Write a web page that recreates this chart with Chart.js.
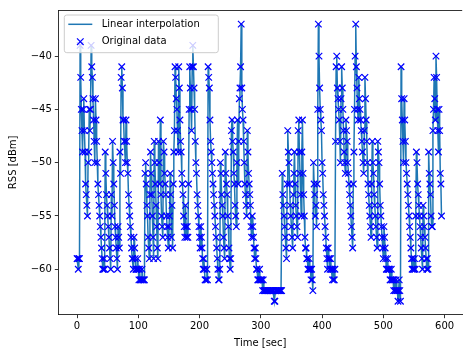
<!DOCTYPE html>
<html><head><meta charset="utf-8">
<script src="https://cdn.jsdelivr.net/npm/chart.js@4/dist/chart.umd.min.js"></script>
<style>html,body{margin:0;padding:0;background:#fff}#wrap{width:468px;height:352px}</style>
</head><body><div id="wrap"><canvas id="c" width="468" height="352"></canvas></div>
<script>
// Sample times: one RSS reading per second starting at 0 s
const sampleStart = 0;
const samplePeriod = 1;
// RSS readings [dBm]
const rss = [
-59,-59,-60,-59,-59,-39,-42,-45,-47,-49,
-45,-44,-47,-49,-52,-53,-54,-55,-50,-49,
-45,-47,-45,-39,-41,-42,-44,-46,-48,-50,
-44,-46,-48,-50,-52,-53,-54,-55,-56,-57,
-58,-59,-60,-60,-59,-60,-49,-51,-53,-54,
-55,-56,-57,-58,-59,-60,-53,-55,-48,-50,
-52,-54,-56,-57,-58,-59,-60,-56,-57,-58,
-49,-51,-42,-41,-43,-46,-46,-48,-48,-50,
-46,-48,-50,-51,-53,-54,-55,-56,-57,-58,
-59,-59,-60,-57,-58,-59,-60,-60,-60,-59,
-60,-61,-60,-61,-61,-61,-60,-61,-61,-61,
-61,-51,-50,-52,-54,-55,-57,-58,-59,-53,
-49,-51,-53,-55,-57,-59,-48,-50,-52,-54,
-56,-58,-59,-48,-50,-52,-46,-53,-55,-56,
-57,-48,-49,-51,-52,-53,-55,-56,-57,-58,
-56,-55,-51,-53,-57,-54,-58,-52,-49,-47,
-41,-42,-44,-45,-47,-49,-41,-43,-46,-48,
-49,-51,-52,-53,-55,-56,-57,-54,-56,-57,
-56,-57,-52,-45,-41,-43,-45,-47,-41,-39,
-41,-43,-45,-48,-50,-51,-53,-54,-55,-56,
-57,-58,-56,-57,-58,-59,-60,-59,-60,-61,
-61,-61,-60,-61,-41,-42,-43,-46,-48,-49,
-50,-51,-52,-53,-54,-55,-56,-57,-58,-59,
-60,-61,-61,-60,-50,-51,-53,-54,-55,-57,
-58,-59,-49,-51,-52,-53,-55,-56,-58,-59,
-60,-59,-47,-46,-48,-49,-51,-52,-54,-55,
-56,-50,-46,-52,-48,-44,-43,-41,-37,-43,
-45,-46,-48,-50,-52,-53,-54,-55,-47,-49,
-51,-52,-53,-54,-56,-57,-55,-56,-57,-58,
-59,-58,-59,-60,-60,-61,-61,-61,-60,-61,
-61,-61,-61,-62,-61,-62,-62,-62,-62,-62,
-62,-62,-62,-62,-62,-62,-62,-62,-62,-62,
-62,-62,-63,-63,-62,-62,-62,-62,-62,-62,
-62,-62,-62,-62,-62,-51,-53,-54,-55,-56,
-57,-58,-59,-52,-47,-49,-50,-52,-54,-55,
-56,-57,-58,-53,-51,-49,-52,-54,-55,-56,
-57,-47,-46,-49,-51,-53,-55,-49,-46,-51,
-53,-55,-57,-58,-58,-59,-59,-60,-60,-59,
-60,-60,-61,-60,-61,-62,-50,-52,-53,-55,
-54,-56,-52,-45,-37,-40,-43,-45,-46,-47,
-50,-51,-53,-54,-55,-56,-57,-58,-59,-60,
-58,-59,-59,-60,-59,-60,-60,-61,-60,-61,
-61,-60,-48,-41,-40,-43,-44,-45,-46,-48,
-50,-44,-41,-43,-45,-47,-49,-50,-51,-46,
-47,-48,-50,-51,-52,-53,-54,-55,-56,-57,
-58,-52,-49,-45,-40,-37,-41,-43,-45,-46,
-42,-44,-45,-46,-47,-48,-49,-50,-51,-47,
-42,-44,-46,-48,-50,-52,-53,-54,-55,-56,
-57,-52,-48,-50,-51,-53,-54,-55,-56,-57,
-58,-48,-49,-50,-52,-54,-55,-56,-57,-58,
-59,-56,-57,-58,-59,-60,-60,-59,-60,-60,
-60,-61,-61,-60,-61,-61,-61,-62,-61,-62,
-62,-61,-62,-62,-63,-62,-61,-62,-63,-41,
-44,-46,-48,-50,-44,-46,-48,-50,-51,-52,
-53,-54,-55,-56,-57,-58,-59,-60,-59,-60,
-60,-59,-60,-55,-49,-50,-52,-53,-54,-55,
-56,-57,-58,-59,-60,-54,-55,-56,-57,-58,
-59,-60,-59,-60,-49,-51,-52,-53,-55,-56,
-56,-47,-45,-42,-44,-46,-40,-42,-45,-47,
-49,-45,-47,-51,-52,-55
];
const xTicks = [0, 100, 200, 300, 400, 500, 600];
const yTicks = [-60, -55, -50, -45, -40];
const seriesNames = ['Linear interpolation', 'Original data'];
const xTitle = 'Time [sec]';
const yTitle = 'RSS [dBm]';

const pts = rss.map((v, i) => ({x: sampleStart + i * samplePeriod, y: v}));
const FONT = 'DejaVu Sans';
const minus = v => String(v).replace('-', '\u2212');

const frame = {
  id: 'frame',
  afterDraw(chart) {
    const {ctx, chartArea: a} = chart;
    ctx.save();
    ctx.strokeStyle = '#000';
    ctx.lineWidth = 0.8;
    ctx.beginPath();
    ctx.moveTo(a.left, a.top + 0.5);
    ctx.lineTo(a.right, a.top + 0.5);
    ctx.stroke();
    // legend
    const lx = 64.3, ly = 15, lw = 154, lh = 37.7, r = 2.5;
    ctx.beginPath();
    ctx.moveTo(lx + r, ly);
    ctx.lineTo(lx + lw - r, ly); ctx.quadraticCurveTo(lx + lw, ly, lx + lw, ly + r);
    ctx.lineTo(lx + lw, ly + lh - r); ctx.quadraticCurveTo(lx + lw, ly + lh, lx + lw - r, ly + lh);
    ctx.lineTo(lx + r, ly + lh); ctx.quadraticCurveTo(lx, ly + lh, lx, ly + lh - r);
    ctx.lineTo(lx, ly + r); ctx.quadraticCurveTo(lx, ly, lx + r, ly);
    ctx.closePath();
    ctx.fillStyle = 'rgba(255,255,255,0.8)';
    ctx.fill();
    ctx.strokeStyle = '#cccccc';
    ctx.lineWidth = 1;
    ctx.stroke();
    ctx.strokeStyle = '#1f77b4';
    ctx.lineWidth = 1.5;
    ctx.beginPath(); ctx.moveTo(68.3, 24.3); ctx.lineTo(92.3, 24.3); ctx.stroke();
    ctx.strokeStyle = '#0000ff';
    ctx.lineWidth = 1.2;
    ctx.beginPath();
    ctx.moveTo(77.0, 38.4); ctx.lineTo(83.6, 45.0);
    ctx.moveTo(83.6, 38.4); ctx.lineTo(77.0, 45.0);
    ctx.stroke();
    ctx.fillStyle = '#000';
    ctx.font = '10px "' + FONT + '"';
    ctx.textBaseline = 'middle';
    ctx.textAlign = 'left';
    ctx.fillText(seriesNames[0], 101.7, 24.3);
    ctx.fillText(seriesNames[1], 101.7, 41.7);
    ctx.restore();
  }
};

new Chart(document.getElementById('c'), {
  type: 'scatter',
  data: {
    datasets: [
      {label: seriesNames[0], data: pts, showLine: true, borderColor: '#1f77b4', borderWidth: 1.5,
       pointRadius: 0, pointHoverRadius: 0, tension: 0, order: 2},
      {label: seriesNames[1], data: pts, showLine: false, pointStyle: 'crossRot', pointRadius: 4.6,
       pointBorderColor: '#0000ff', borderColor: '#0000ff', backgroundColor: '#0000ff', pointBorderWidth: 1.2, order: 1}
    ]
  },
  options: {
    responsive: false,
    devicePixelRatio: 1,
    animation: false,
    events: [],
    layout: {padding: {top: 10, right: 0, left: 0, bottom: 0}},
    plugins: {legend: {display: false}, tooltip: {enabled: false}},
    scales: {
      x: {
        type: 'linear', min: -30.6, max: 628.8,
        afterFit: s => { s.height = 37.3; },
        afterBuildTicks: s => { s.ticks = xTicks.map(v => ({value: v})); },
        grid: {drawOnChartArea: false, drawTicks: true, tickLength: 3.5, tickWidth: 0.8, tickColor: '#000'},
        border: {display: true, color: '#000', width: 0.8},
        ticks: {color: '#000', font: {family: FONT, size: 10}, padding: 2, maxRotation: 0, callback: v => minus(v)},
        title: {display: true, text: xTitle, color: '#000', font: {family: FONT, size: 10}, padding: {top: 0, bottom: 3}}
      },
      y: {
        type: 'linear', min: -64.26, max: -35.68,
        afterFit: s => { s.width = 58.3; },
        afterBuildTicks: s => { s.ticks = yTicks.map(v => ({value: v})); },
        grid: {drawOnChartArea: false, drawTicks: true, tickLength: 3.5, tickWidth: 0.8, tickColor: '#000'},
        border: {display: true, color: '#000', width: 0.8},
        ticks: {color: '#000', font: {family: FONT, size: 10}, padding: 3, callback: v => minus(v)},
        title: {display: true, text: yTitle, color: '#000', font: {family: FONT, size: 10}, padding: {top: 7, bottom: 0}}
      }
    }
  },
  plugins: [frame]
});
</script></body></html>
